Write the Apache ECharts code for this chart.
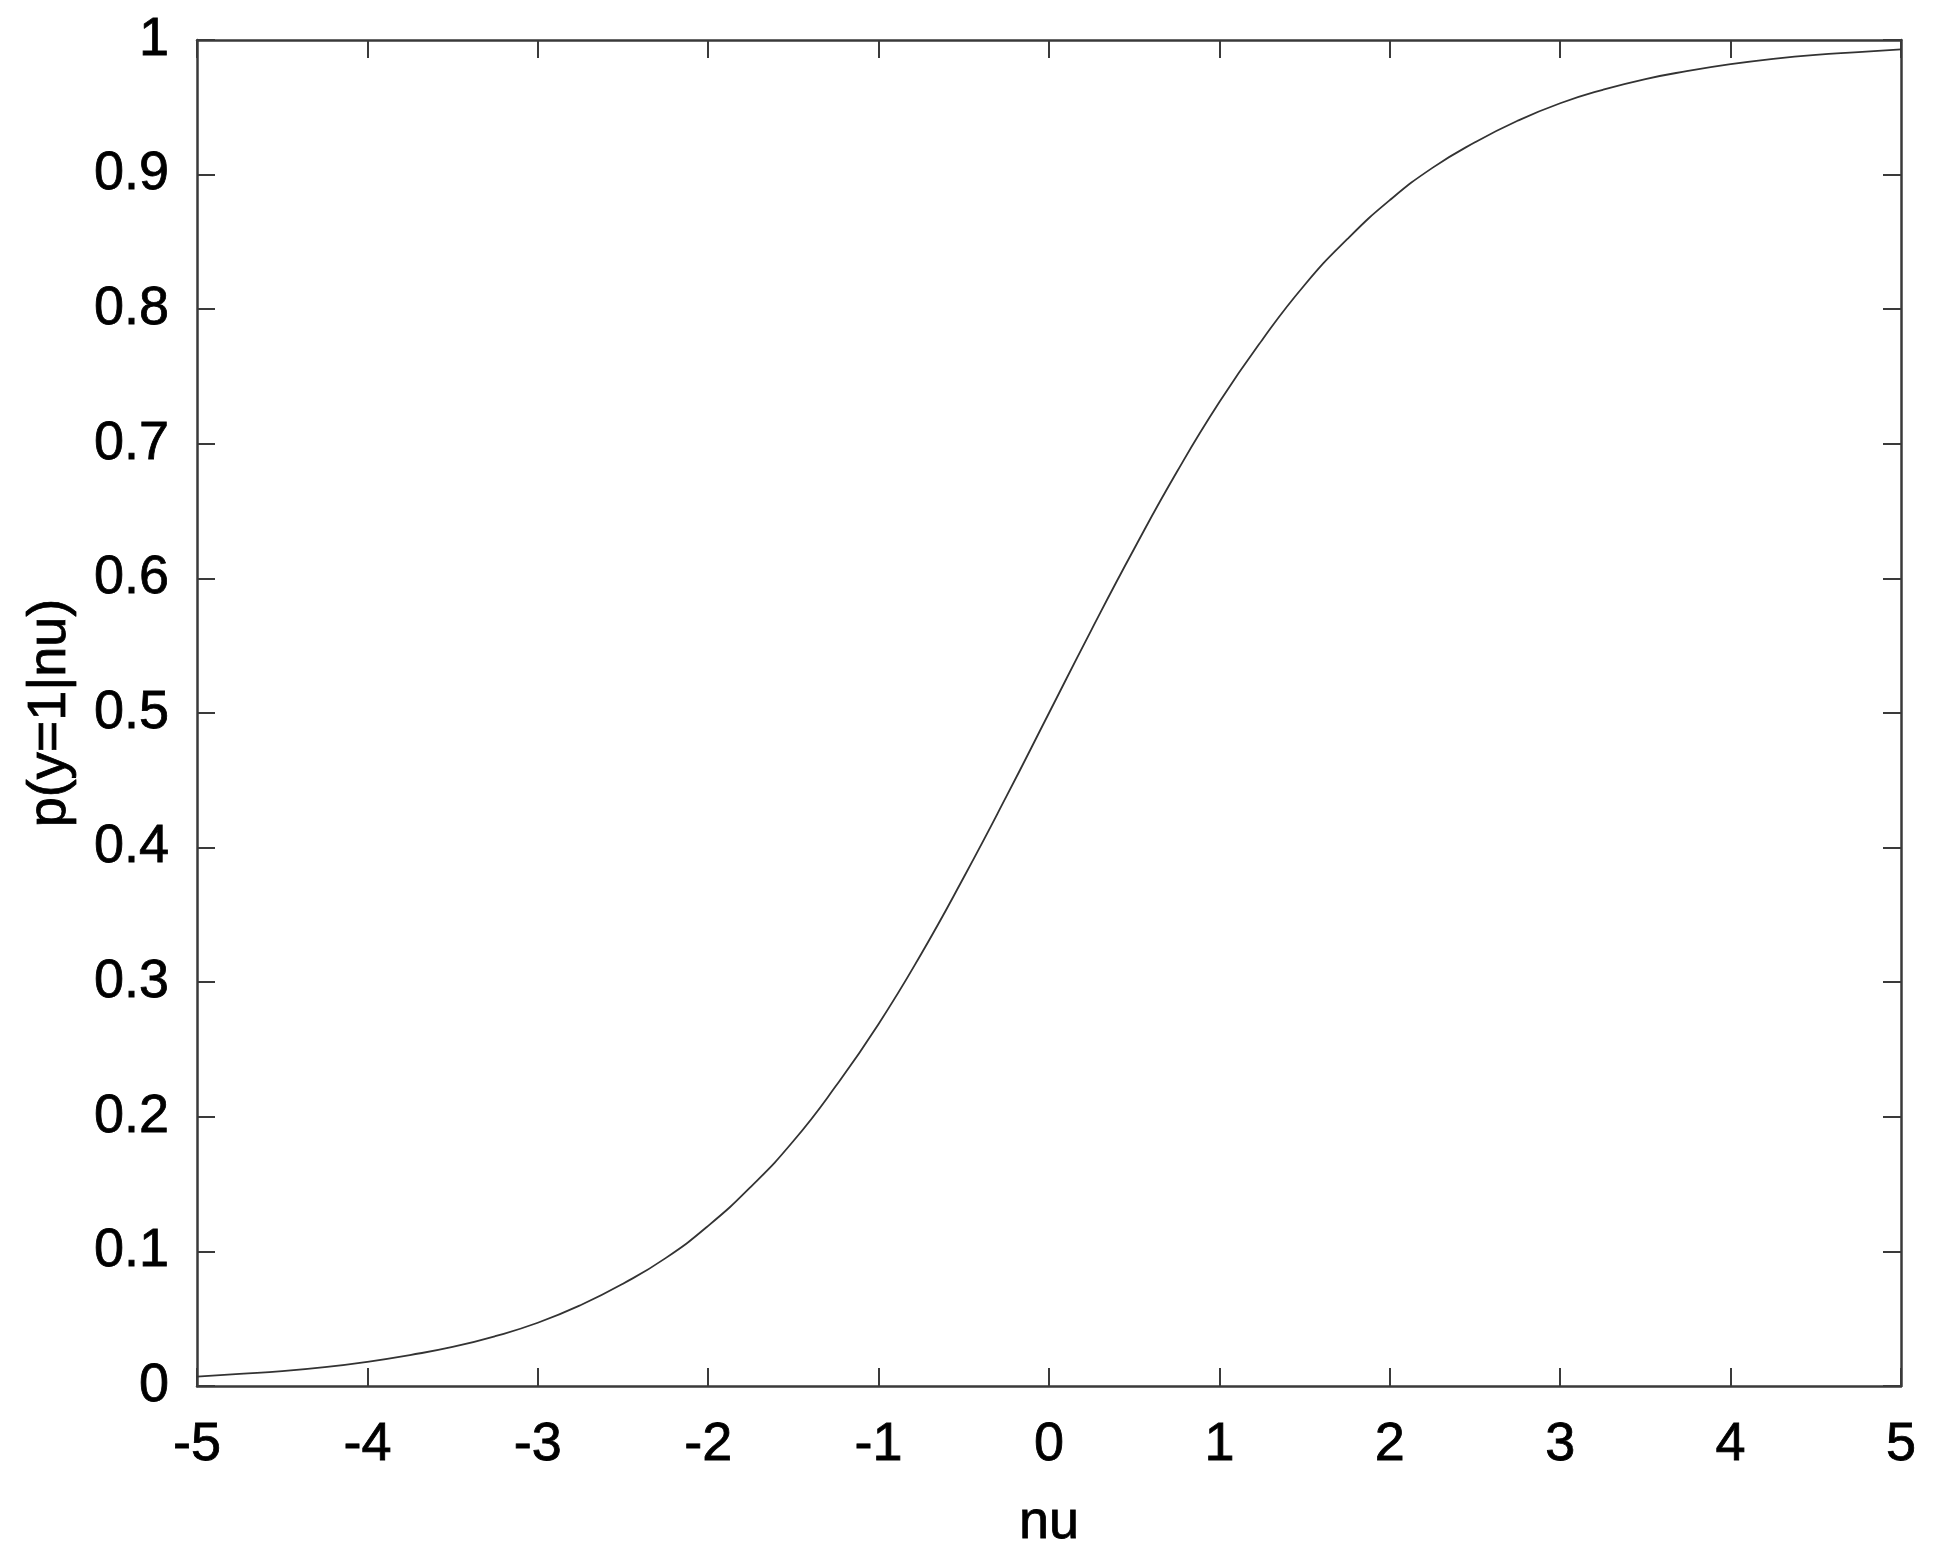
<!DOCTYPE html>
<html>
<head>
<meta charset="utf-8">
<script src="https://cdn.jsdelivr.net/npm/echarts@6/dist/echarts.min.js"></script>
<style>
  html, body { margin: 0; padding: 0; background: #fff; }
  #main { width: 1942px; height: 1568px; }
</style>
</head>
<body>
<div id="main"></div>
<script>
// values
var nu = [-5, -4.75, -4.5, -4.25, -4, -3.75, -3.5, -3.25, -3, -2.75, -2.5, -2.25, -2, -1.75, -1.5, -1.25, -1, -0.75, -0.5, -0.25,
  0, 0.25, 0.5, 0.75, 1, 1.25, 1.5, 1.75, 2, 2.25, 2.5, 2.75, 3, 3.25, 3.5, 3.75, 4, 4.25, 4.5, 4.75, 5];
var prob = [0.007, 0.009, 0.011, 0.014, 0.018, 0.023, 0.029, 0.037, 0.047, 0.060, 0.076, 0.095, 0.119, 0.148, 0.182, 0.223, 0.269, 0.321, 0.378, 0.438,
  0.500, 0.562, 0.622, 0.679, 0.731, 0.777, 0.818, 0.852, 0.881, 0.905, 0.924, 0.940, 0.953, 0.963, 0.971, 0.977, 0.982, 0.986, 0.989, 0.991, 0.993];
var yTickLabels = ['0', '0.1', '0.2', '0.3', '0.4', '0.5', '0.6', '0.7', '0.8', '0.9', '1'];

var frameColor = '#3a3a3a';
var font = 'Liberation Sans, Arial, sans-serif';
var textStyle = { fontFamily: font, fontSize: 54, color: '#000', textBorderColor: '#000', textBorderWidth: 0.8 };

var chart = echarts.init(document.getElementById('main'));

function frameAxis(extra) {
  var base = {
    type: 'value',
    axisLine: { show: true, onZero: false, lineStyle: { color: frameColor, width: 2.5 } },
    axisTick: { show: true, inside: true, length: 18, lineStyle: { color: frameColor, width: 2 } },
    splitLine: { show: false },
    axisLabel: { show: false }
  };
  for (var k in extra) base[k] = extra[k];
  return base;
}

function withStyle(obj) {
  for (var k in textStyle) obj[k] = textStyle[k];
  return obj;
}

var option = {
  animation: false,
  grid: { left: 197, right: 41, top: 40, bottom: 182 },
  xAxis: [
    frameAxis({
      position: 'bottom', min: -5, max: 5, interval: 1,
      name: 'nu', nameLocation: 'middle', nameGap: 110,
      nameTextStyle: withStyle({}),
      axisLabel: withStyle({ show: true, margin: 32 })
    }),
    frameAxis({ position: 'top', min: -5, max: 5, interval: 1 })
  ],
  yAxis: [
    frameAxis({
      position: 'left', min: 0, max: 1, interval: 0.1,
      name: 'p(y=1|nu)', nameLocation: 'middle', nameGap: 120,
      nameTextStyle: withStyle({}),
      axisLabel: withStyle({
        show: true, margin: 28,
        formatter: function (v) { return yTickLabels[Math.round(v * 10)]; }
      })
    }),
    frameAxis({ position: 'right', min: 0, max: 1, interval: 0.1 })
  ],
  series: [{
    type: 'line',
    data: nu.map(function (x, i) { return [x, prob[i]]; }),
    smooth: true,
    showSymbol: false,
    lineStyle: { color: '#333', width: 1.8 }
  }]
};
chart.setOption(option);
</script>
</body>
</html>
